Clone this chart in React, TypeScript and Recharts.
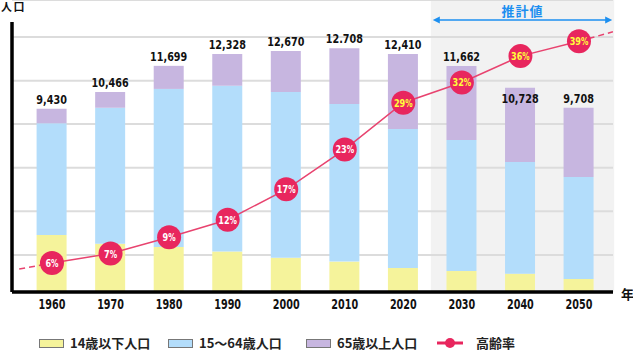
import React from "react";
import {
  ComposedChart,
  Bar,
  Line,
  XAxis,
  YAxis,
  CartesianGrid,
  ReferenceArea,
  ReferenceLine,
  LabelList,
  Legend,
} from "recharts";

// ---- data ----
const years = [1960, 1970, 1980, 1990, 2000, 2010, 2020, 2030, 2040, 2050];
const under15 = [2960, 2510, 2340, 2100, 1780, 1580, 1250, 1090, 950, 680];
const age15to64 = [5810, 7070, 8220, 8620, 8620, 8200, 7230, 6810, 5810, 5300];
const over65 = [760, 820, 1200, 1660, 2130, 2900, 3900, 3850, 3860, 3600];
const totalLabels = ["9,430", "10,466", "11,699", "12,328", "12,670", "12.708", "12,410", "11,662", "10,728", "9,708"];
const agingRate = [5.7, 7.1, 9.5, 12.1, 16.6, 22.5, 29.4, 32.4, 36.3, 38.5];
const agingLabels = ["6", "7", "9", "12", "17", "23", "29", "32", "36", "39"];
const trendBefore = [
  { year: 1954.4, rate: 4.8 },
  { year: 1960, rate: 5.7 },
];
const trendAfter = [
  { year: 2050, rate: 38.5 },
  { year: 2055.8, rate: 39.9 },
];
const gridValues = [1930, 4200, 6460, 8730, 10990, 13260];
const seriesNames = ["14歳以下人口", "15～64歳人口", "65歳以上人口", "高齢率"];
const projectionStartYear = 2024.7;
const projectionLabel = "推計値";
const highlightFromIndex = 6; // rate labels drawn in yellow from 2020
const labelInsideIndex = 8; // 2040 total label sits inside the bar

const X_DOMAIN: [number, number] = [1953.17, 2055.81];
const POP_DOMAIN: [number, number] = [0, 15184];
const POP_AXIS_TOP = 14040;

const data = years.map((year, i) => ({
  year,
  under15: under15[i],
  mid: age15to64[i],
  over65: over65[i],
  rate: agingRate[i],
}));

// ---- styles ----
const C_YELLOW = "#f5f39b";
const C_BLUE = "#b3ddfb";
const C_PURPLE = "#c7b6e0";
const C_RATE = "#e8265e";
const C_LINE = "#e8436f";
const C_PROJ = "#1c8ff0";
const NUMFONT = "'DejaVu Sans', sans-serif";
const CJK = "'Noto Sans CJK JP', 'Noto Sans', sans-serif";

// width of a condensed numeric string (glyphs squeezed via textLength)
const squeeze = (s: string, digit: number, other: number) =>
  s.split("").reduce((w, ch) => w + (/[0-9]/.test(ch) ? digit : other), 0);

const TotalLabel = (props: any) => {
  const { x, y, width, index } = props;
  const inside = index === labelInsideIndex;
  const s = totalLabels[index];
  return (
    <text
      x={x + width / 2}
      y={inside ? y + 15 : y - 5}
      textAnchor="middle"
      fontFamily={NUMFONT}
      fontWeight="bold"
      fontSize={12.5}
      fill="#111"
      textLength={squeeze(s, 6.6, 4.2)}
      lengthAdjust="spacingAndGlyphs"
    >
      {s}
    </text>
  );
};

const RateDot = (props: any) => {
  const { cx, cy, index } = props;
  if (cx == null || cy == null) return <g key={`d${index}`} />;
  const color = index >= highlightFromIndex ? "#ffff3a" : "#ffffff";
  const s = agingLabels[index];
  return (
    <g key={`d${index}`}>
      <circle cx={cx} cy={cy} r={12} fill={C_RATE} />
      <text
        x={cx}
        y={cy + 4}
        textAnchor="middle"
        fontFamily={NUMFONT}
        fontWeight="bold"
        fontSize={11}
        fill={color}
        textLength={squeeze(s, 5.6, 0) + 7.5}
        lengthAdjust="spacingAndGlyphs"
      >
        {s}
        <tspan fontSize={10}>%</tspan>
      </text>
    </g>
  );
};

const ProjectionLabel = (props: any) => {
  const vb = props.viewBox || {};
  const { x, y, width } = vb;
  const ay = y + 20;
  const x1 = x + 2;
  const x2 = x + width - 2;
  return (
    <g>
      <text
        x={x + width / 2}
        y={y + 16}
        textAnchor="middle"
        fontFamily={CJK}
        fontWeight="bold"
        fontSize={13}
        letterSpacing={1}
        fill={C_PROJ}
      >
        {projectionLabel}
      </text>
      <line x1={x1 + 4} y1={ay} x2={x2 - 4} y2={ay} stroke={C_PROJ} strokeWidth={1.5} />
      <polygon points={`${x1},${ay} ${x1 + 7},${ay - 3.5} ${x1 + 7},${ay + 3.5}`} fill={C_PROJ} />
      <polygon points={`${x2},${ay} ${x2 - 7},${ay - 3.5} ${x2 - 7},${ay + 3.5}`} fill={C_PROJ} />
    </g>
  );
};

const YearTick = (props: any) => {
  const { x, y, payload } = props;
  const s = String(payload.value);
  return (
    <text
      x={x}
      y={y + 17}
      textAnchor="middle"
      fontFamily={NUMFONT}
      fontWeight="bold"
      fontSize={14}
      fill="#111"
      textLength={squeeze(s, 6.7, 4)}
      lengthAdjust="spacingAndGlyphs"
    >
      {s}
    </text>
  );
};

const YTitle = (props: any) => {
  const { y } = props.viewBox || {};
  return (
    <text x={1} y={(y || 0) + 11} fontFamily={CJK} fontWeight="bold" fontSize={11} letterSpacing={1.5} fill="#111">
      人口
    </text>
  );
};

const XTitle = (props: any) => {
  const { x, y, width } = props.viewBox || {};
  return (
    <text x={x + width + 8} y={y + 7} fontFamily={CJK} fontWeight="bold" fontSize={13} fill="#111">
      年
    </text>
  );
};

const legendWidths = [129, 138, 131];

const LegendContent = () => {
  const boxes = [C_YELLOW, C_BLUE, C_PURPLE];
  return (
    <div
      style={{
        display: "flex",
        alignItems: "center",
        height: 16,
        paddingLeft: 39,
        fontFamily: CJK,
        fontWeight: 700,
        fontSize: 13,
        color: "#222",
        lineHeight: "16px",
        whiteSpace: "nowrap",
      }}
    >
      {boxes.map((c, i) => (
        <div key={i} style={{ display: "flex", alignItems: "center", width: legendWidths[i] }}>
          <span
            style={{
              display: "inline-block",
              width: 23,
              height: 7,
              background: c,
              border: "1px solid #777",
              marginRight: 6,
            }}
          />
          <span>{seriesNames[i]}</span>
        </div>
      ))}
      <div style={{ display: "flex", alignItems: "center" }}>
        <svg width={26} height={12} style={{ marginRight: 13 }}>
          <line x1={0} y1={6} x2={26} y2={6} stroke={C_RATE} strokeWidth={3} />
          <circle cx={13} cy={6} r={5} fill={C_RATE} />
        </svg>
        <span>{seriesNames[3]}</span>
      </div>
    </div>
  );
};

export default function App() {
  return (
    <div style={{ position: "absolute", left: 0, top: 0, width: 633, height: 351, background: "#fff" }}>
      <ComposedChart
        width={633}
        height={351}
        data={data}
        margin={{ top: 0, right: 20, bottom: 0, left: 11 }}
      >
        <ReferenceArea
          x1={projectionStartYear}
          x2={X_DOMAIN[1] + 0.2}
          y1={0}
          y2={POP_DOMAIN[1]}
          ifOverflow="visible"
          fill="#f2f2f2"
          fillOpacity={1}
          stroke="none"
          zIndex={-200}
          label={<ProjectionLabel />}
        />
        <CartesianGrid vertical={false} stroke="#dcdcdc" strokeWidth={2} />
        {gridValues.map((v) => (
          <ReferenceLine key={v} y={v} stroke="#dcdcdc" strokeWidth={2} zIndex={-150} />
        ))}
        <Bar dataKey="under15" stackId="a" fill={C_YELLOW} barSize={30} isAnimationActive={false} />
        <Bar dataKey="mid" stackId="a" fill={C_BLUE} barSize={30} isAnimationActive={false} />
        <Bar dataKey="over65" stackId="a" fill={C_PURPLE} barSize={30} isAnimationActive={false}>
          <LabelList dataKey="over65" content={<TotalLabel />} />
        </Bar>
        <XAxis
          dataKey="year"
          type="number"
          domain={X_DOMAIN}
          allowDataOverflow
          ticks={years}
          interval={0}
          height={43}
          tickLine={false}
          tickSize={0}
          tickMargin={0}
          axisLine={{ stroke: "#000", strokeWidth: 3.5 }}
          tick={<YearTick />}
          label={<XTitle />}
        />
        <YAxis
          width={1}
          domain={POP_DOMAIN}
          allowDataOverflow
          ticks={gridValues}
          interval={0}
          tick={false}
          tickLine={false}
          axisLine={false}
          label={<YTitle />}
        />
        <YAxis yAxisId="rate" orientation="right" hide domain={[1.41, 44.6]} allowDataOverflow />
        <ReferenceLine
          segment={[
            { x: X_DOMAIN[0], y: 0 },
            { x: X_DOMAIN[0], y: POP_AXIS_TOP },
          ]}
          ifOverflow="visible"
          stroke="#000"
          strokeWidth={3.5}
        />
        <Line
          yAxisId="rate"
          data={trendBefore}
          dataKey="rate"
          stroke={C_LINE}
          strokeWidth={1.5}
          strokeDasharray="6 4"
          dot={false}
          activeDot={false}
          isAnimationActive={false}
        />
        <Line
          yAxisId="rate"
          data={trendAfter}
          dataKey="rate"
          stroke={C_LINE}
          strokeWidth={1.5}
          strokeDasharray="6 4"
          dot={false}
          activeDot={false}
          isAnimationActive={false}
        />
        <Line
          yAxisId="rate"
          dataKey="rate"
          stroke={C_LINE}
          strokeWidth={1.5}
          dot={<RateDot />}
          activeDot={false}
          isAnimationActive={false}
        />
        <Legend
          verticalAlign="bottom"
          align="left"
          content={<LegendContent />}
          wrapperStyle={{ left: 0, bottom: 0, width: 633, height: 16 }}
        />
      </ComposedChart>
    </div>
  );
}
